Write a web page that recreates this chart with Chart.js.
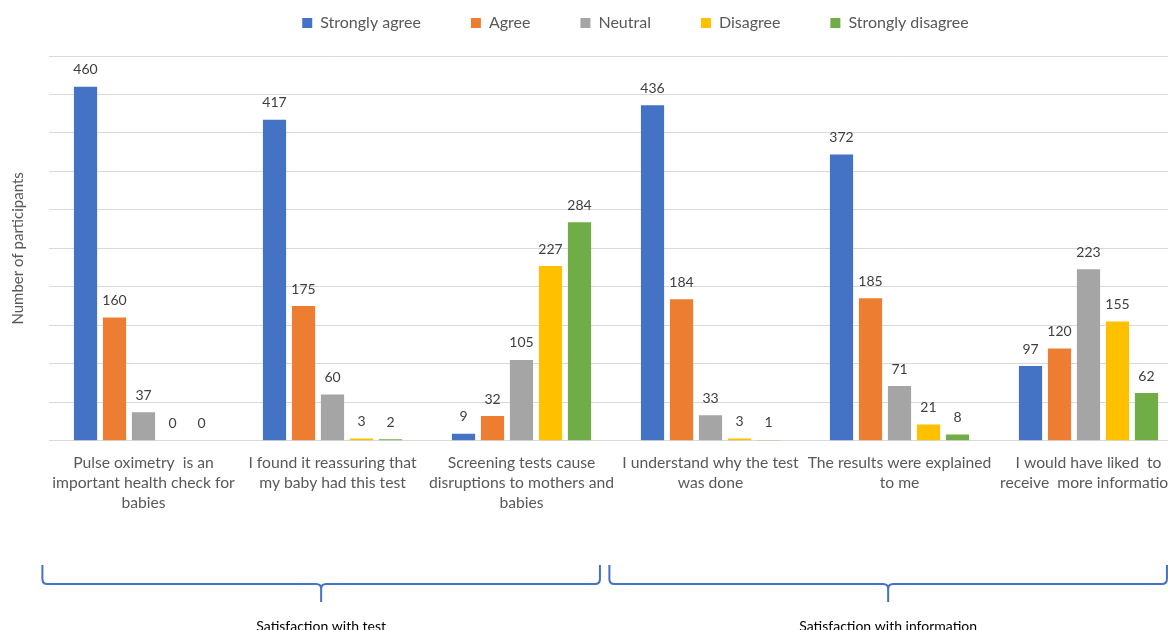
<!DOCTYPE html>
<html>
<head>
<meta charset="utf-8">
<script src="https://cdn.jsdelivr.net/npm/chart.js@4"></script>
<style>
    html, body { margin: 0; padding: 0; background: #fff; overflow: hidden; }
    #wrap { position: relative; width: 1190px; height: 630px; }
</style>
</head>
<body>
<div id="wrap"><canvas id="surveyChart"></canvas></div>
<script>
// --- DATA ---
const categories = [
    ['Pulse oximetry  is an', 'important health check for', 'babies'],
    ['I found it reassuring that', 'my baby had this test'],
    ['Screening tests cause', 'disruptions to mothers and', 'babies'],
    ['I understand why the test', 'was done'],
    ['The results were explained', 'to me'],
    ['I would have liked  to', 'receive  more information']
];
const seriesNames = ['Strongly agree', 'Agree', 'Neutral', 'Disagree', 'Strongly disagree'];
const stronglyAgree    = [460, 417, 9, 436, 372, 97];
const agree            = [160, 175, 32, 184, 185, 120];
const neutral          = [37, 60, 105, 33, 71, 223];
const disagree         = [0, 3, 227, 3, 21, 155];
const stronglyDisagree = [0, 2, 284, 1, 8, 62];
const seriesColors = ['#4472C4', '#ED7D31', '#A5A5A5', '#FFC000', '#70AD47'];
const yTicks = [0, 50, 100, 150, 200, 250, 300, 350, 400, 450, 500];
const groups = [
    { label: 'Satisfaction with test', from: 0, to: 2 },
    { label: 'Satisfaction with information', from: 3, to: 5 }
];

const FONT = 'Lato, "Open Sans", sans-serif';
const seriesValues = [stronglyAgree, agree, neutral, disagree, stronglyDisagree];

// --- PLUGINS ---
// legend sits higher and a bit right of the canvas center in the original
const legendPlace = {
    id: 'legendPlace',
    beforeInit(chart) {
        const fit = chart.legend.fit;
        chart.legend.fit = function () {
            fit.call(this);
            this.height = 56;
        };
    },
    afterLayout(chart) {
        const lg = chart.legend;
        const lbl = lg.options.labels;
        lg.top = 23 - lbl.padding - lbl.font.size / 2;
        lg.left += 41;
        lg.right += 41;
    }
};

// numbers over every bar
const valueLabels = {
    id: 'valueLabels',
    afterDatasetsDraw(chart) {
        const ctx = chart.ctx;
        ctx.save();
        ctx.font = '14px ' + FONT;
        ctx.fillStyle = '#404040';
        ctx.textAlign = 'center';
        ctx.textBaseline = 'middle';
        chart.data.datasets.forEach((ds, i) => {
            chart.getDatasetMeta(i).data.forEach((bar, j) => {
                ctx.fillText(String(ds.data[j]), bar.x, bar.y - 17);
            });
        });
        ctx.restore();
    }
};

// curly braces + group captions under the axis
const groupBraces = {
    id: 'groupBraces',
    afterDraw(chart) {
        const ctx = chart.ctx;
        const x = chart.scales.x;
        const step = x.getPixelForValue(1) - x.getPixelForValue(0);
        const yTop = 565, yLine = 584, yTip = 602, r = 5;
        ctx.save();
        ctx.strokeStyle = '#4472C4';
        ctx.lineWidth = 2;
        groups.forEach(g => {
            const x0 = x.getPixelForValue(g.from) - 0.535 * step;
            const x1 = x.getPixelForValue(g.to) + 0.415 * step;
            const mid = (x0 + x1) / 2;
            ctx.beginPath();
            ctx.moveTo(x0, yTop);
            ctx.lineTo(x0, yLine - r);
            ctx.quadraticCurveTo(x0, yLine, x0 + r, yLine);
            ctx.lineTo(mid - r, yLine);
            ctx.quadraticCurveTo(mid, yLine, mid, yLine + r);
            ctx.lineTo(mid, yTip);
            ctx.moveTo(mid, yLine + r);
            ctx.quadraticCurveTo(mid, yLine, mid + r, yLine);
            ctx.lineTo(x1 - r, yLine);
            ctx.quadraticCurveTo(x1, yLine, x1, yLine - r);
            ctx.lineTo(x1, yTop);
            ctx.stroke();

            ctx.fillStyle = '#000';
            ctx.font = '14px ' + FONT;
            ctx.textAlign = 'center';
            ctx.textBaseline = 'top';
            ctx.fillText(g.label, mid, 619);
        });
        ctx.restore();
    }
};

// --- CHART ---
new Chart(document.getElementById('surveyChart'), {
    type: 'bar',
    data: {
        labels: categories,
        datasets: seriesNames.map((name, i) => ({
            label: name,
            data: seriesValues[i],
            backgroundColor: seriesColors[i],
            borderWidth: 0,
            categoryPercentage: 0.767,
            barPercentage: 0.8
        }))
    },
    options: {
        responsive: true,
        maintainAspectRatio: false,
        animation: false,
        layout: { padding: { left: 6, right: 7, top: 0, bottom: 105 } },
        plugins: {
            legend: {
                position: 'top',
                labels: {
                    boxWidth: 10,
                    boxHeight: 10,
                    padding: 50,
                    color: '#595959',
                    font: { family: FONT, size: 16 }
                }
            },
            tooltip: { enabled: false }
        },
        scales: {
            x: {
                grid: { display: false, drawTicks: false },
                border: { color: '#d9d9d9', width: 1 },
                ticks: {
                    color: '#595959',
                    font: { family: FONT, size: 15.7, lineHeight: 1.28 },
                    padding: 12,
                    maxRotation: 0,
                    autoSkip: false
                }
            },
            y: {
                min: yTicks[0],
                max: yTicks[yTicks.length - 1],
                afterBuildTicks(scale) {
                    scale.ticks = yTicks.map(v => ({ value: v }));
                },
                grid: { color: '#d9d9d9', drawTicks: false },
                border: { display: false },
                ticks: { display: false },
                title: {
                    display: true,
                    text: 'Number of participants',
                    color: '#595959',
                    font: { family: FONT, size: 15 },
                    padding: { top: 3, bottom: 22 }
                }
            }
        }
    },
    plugins: [legendPlace, valueLabels, groupBraces]
});
</script>
</body>
</html>
